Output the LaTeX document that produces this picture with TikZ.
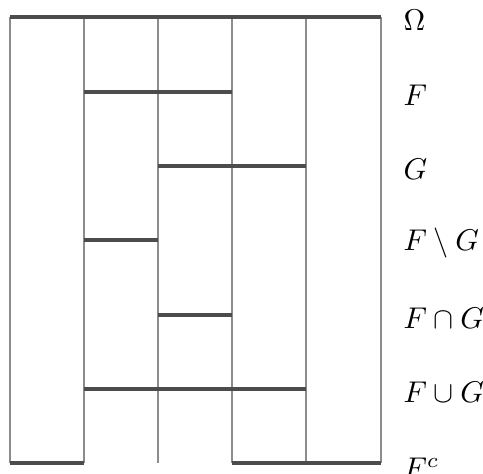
\documentclass[tikz,border=0pt]{standalone}
\begin{document}
\begin{tikzpicture}[x=0.3333pt,y=-0.3333pt,
  vline/.style={draw=black!45,line width=0.45pt},
  hline/.style={draw=black!70,line width=1.3pt},
  lab/.style={anchor=west,inner sep=0pt,font=\fontsize{9.8}{12}\selectfont}]
\useasboundingbox (0,0) rectangle (483,473);
% vertical lines
\foreach \x in {10,84,158,232,306,381}
  \draw[vline] (\x,17) -- (\x,463);
% horizontal lines
\draw[hline] (10,17) -- (381,17);
\draw[hline] (84,92) -- (232,92);
\draw[hline] (158,166) -- (306,166);
\draw[hline] (84,240) -- (158,240);
\draw[hline] (158,315) -- (232,315);
\draw[hline] (84,389) -- (306,389);
\draw[hline] (10,463) -- (84,463);
\draw[hline] (232,463) -- (381,463);
% labels
\node[lab] (omega) at (403,20) {$\Omega$};
\node[lab] (f) at (403,95) {$F$};
\node[lab] (g) at (403,169) {$G$};
\node[lab] (fmg) at (403,243) {$F\setminus G$};
\node[lab] (fcg) at (403,318) {$F\cap G$};
\node[lab] (fug) at (403,392) {$F\cup G$};
\node[lab] (fc) at (403,468) {$F^c$};
\end{tikzpicture}
\end{document}
